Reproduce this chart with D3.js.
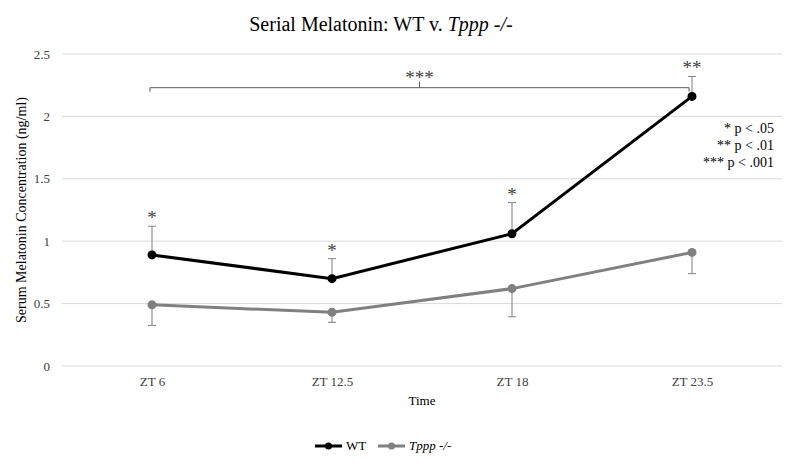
<!DOCTYPE html>
<html>
<head>
<meta charset="utf-8">
<script src="https://cdn.jsdelivr.net/npm/d3@7"></script>
<style>
  body { margin: 0; background: #fff; }
  svg text { font-family: "Liberation Serif", "Times New Roman", serif; fill: #404040; }
</style>
</head>
<body>
<div id="chart"></div>
<script>
// chart data
var times = ["ZT 6", "ZT 12.5", "ZT 18", "ZT 23.5"];
var wtMean = [0.89, 0.70, 1.06, 2.16];
var wtErr = [0.23, 0.16, 0.25, 0.16];
var koMean = [0.49, 0.43, 0.62, 0.91];
var koErr = [0.165, 0.08, 0.225, 0.17];
var wtStars = ["*", "*", "*", "**"];
var yTicks = [0, 0.5, 1, 1.5, 2, 2.5];
var pNotes = ["* p < .05", "** p < .01", "*** p < .001"];

var W = 800, H = 471;
var margin = { top: 54, right: 18, bottom: 105, left: 62 };
var width = W - margin.left - margin.right;
var height = H - margin.top - margin.bottom;
var serif = "Liberation Serif, serif";

var svg = d3.select("#chart").append("svg")
  .attr("width", W).attr("height", H)
  .attr("font-family", serif);

// title
var title = svg.append("text")
  .attr("x", 381).attr("y", 31)
  .attr("text-anchor", "middle")
  .style("font-size", "20px").style("fill", "#000");
title.append("tspan").text("Serial Melatonin: WT v. ");
title.append("tspan").style("font-style", "italic").text("Tppp -/-");

var g = svg.append("g")
  .attr("transform", "translate(" + margin.left + "," + margin.top + ")");

var x = d3.scalePoint().domain(times).range([0, width]).padding(0.5);
var y = d3.scaleLinear().domain([0, 2.5]).range([height, 0]);

// gridlines
g.selectAll(".grid").data(yTicks).enter().append("line")
  .attr("x1", 0).attr("x2", width)
  .attr("y1", function (d) { return y(d); })
  .attr("y2", function (d) { return y(d); })
  .attr("stroke", "#d9d9d9").attr("stroke-width", 1);

// y tick labels
var yAxis = g.append("g")
  .call(d3.axisLeft(y).tickValues(yTicks).tickSize(0).tickPadding(12).tickFormat(d3.format("")))
  .attr("font-family", serif).attr("font-size", 13);
yAxis.select(".domain").remove();
yAxis.selectAll("text").attr("fill", "#404040");

// x tick labels
var xAxis = g.append("g")
  .attr("transform", "translate(0," + height + ")")
  .call(d3.axisBottom(x).tickSize(0).tickPadding(11))
  .attr("font-family", serif).attr("font-size", 13);
xAxis.select(".domain").remove();
xAxis.selectAll("text").attr("fill", "#404040");

// axis titles
svg.append("text")
  .attr("transform", "translate(26," + (margin.top + height / 2) + ") rotate(-90)")
  .attr("text-anchor", "middle")
  .style("font-size", "14px").style("fill", "#000")
  .text("Serum Melatonin Concentration (ng/ml)");

svg.append("text")
  .attr("x", margin.left + width / 2).attr("y", 405)
  .attr("text-anchor", "middle")
  .style("font-size", "13px").style("fill", "#000")
  .text("Time");

// error bars (WT up, KO down)
function errorBars(means, errs, dir) {
  var eb = g.append("g");
  times.forEach(function (t, i) {
    var y0 = y(means[i]);
    var y1 = y(means[i] + dir * errs[i]);
    eb.append("line").attr("x1", x(t)).attr("x2", x(t))
      .attr("y1", y0).attr("y2", y1)
      .attr("stroke", "#7f7f7f").attr("stroke-width", 1);
    eb.append("line").attr("x1", x(t) - 4).attr("x2", x(t) + 4)
      .attr("y1", y1).attr("y2", y1)
      .attr("stroke", "#7f7f7f").attr("stroke-width", 1);
  });
}
errorBars(wtMean, wtErr, 1);
errorBars(koMean, koErr, -1);

var line = d3.line()
  .x(function (d, i) { return x(times[i]); })
  .y(function (d) { return y(d); });

function series(vals, color) {
  g.append("path").datum(vals)
    .attr("d", line).attr("fill", "none")
    .attr("stroke", color).attr("stroke-width", 3);
  g.selectAll(null).data(vals).enter().append("circle")
    .attr("cx", function (d, i) { return x(times[i]); })
    .attr("cy", function (d) { return y(d); })
    .attr("r", 4.5).attr("fill", color);
}
series(koMean, "#808080");
series(wtMean, "#000");

// stars above WT error bars
g.selectAll(".star").data(wtStars).enter().append("text")
  .attr("x", function (d, i) { return x(times[i]); })
  .attr("y", function (d, i) { return y(wtMean[i] + wtErr[i]) - 2; })
  .attr("text-anchor", "middle")
  .style("font-size", "19px").style("fill", "#404040")
  .text(function (d) { return d; });

// bracket ZT 6 .. ZT 23.5
var by = y(2.23);
var bx0 = x(times[0]) - 2, bx1 = x(times[3]) - 3;
var bmid = (bx0 + bx1) / 2;
g.append("path")
  .attr("d", "M" + bx0 + "," + (by + 4) + "V" + by + "H" + bx1 + "V" + (by + 4) +
    "M" + bmid + "," + by + "V" + (by - 6))
  .attr("fill", "none").attr("stroke", "#595959").attr("stroke-width", 1);
g.append("text")
  .attr("x", bmid).attr("y", by - 4)
  .attr("text-anchor", "middle")
  .style("font-size", "19px").style("fill", "#404040")
  .text("***");

// p-value notes
g.selectAll(".pnote").data(pNotes).enter().append("text")
  .attr("x", width - 8)
  .attr("y", function (d, i) { return 79 + i * 17; })
  .attr("text-anchor", "end")
  .style("font-size", "14px").style("fill", "#000")
  .text(function (d) { return d; });

// legend
var legend = svg.append("g").attr("transform", "translate(0,446)");
var items = [
  { label: "WT", color: "#000", italic: false, x0: 315 },
  { label: "Tppp -/-", color: "#808080", italic: true, x0: 378 }
];
items.forEach(function (it) {
  legend.append("line").attr("x1", it.x0).attr("x2", it.x0 + 27)
    .attr("y1", 0).attr("y2", 0)
    .attr("stroke", it.color).attr("stroke-width", 3);
  legend.append("circle").attr("cx", it.x0 + 13.5).attr("cy", 0).attr("r", 3.5).attr("fill", it.color);
  legend.append("text").attr("x", it.x0 + 31).attr("y", 4)
    .style("font-size", "13px").style("fill", "#000")
    .style("font-style", it.italic ? "italic" : "normal")
    .text(it.label);
});
</script>
</body>
</html>
